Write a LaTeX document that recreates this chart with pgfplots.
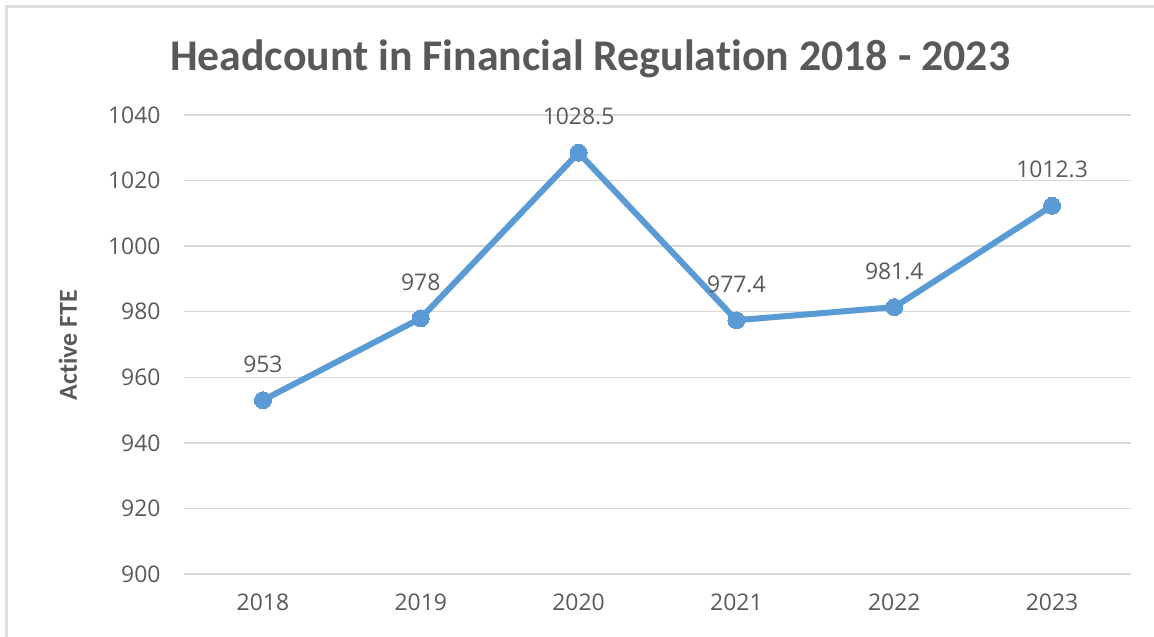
\documentclass[border=0pt]{standalone}
\usepackage{pgfplots}
\pgfplotsset{compat=1.18}
\usepackage{pgfplotstable}
\usepackage{fontspec}
\setmainfont{Open Sans}
\newfontfamily\carlito[Ligatures=CommonOff]{Carlito}
\definecolor{lineblue}{HTML}{5B9BD5}
\definecolor{txtgray}{HTML}{595959}
\definecolor{gridgray}{HTML}{D9D9D9}
\pgfplotstableread{
x y lab
0 953 953
1 978 978
2 1028.5 1028.5
3 977.4 977.4
4 981.4 981.4
5 1012.3 1012.3
}\datatable
\begin{document}
\begin{tikzpicture}
\useasboundingbox (-184bp,-63bp) rectangle (970bp,574bp);
\draw[gridgray!90, line width=3bp] (-177bp,-63bp) -- (-177bp,567bp) -- (970bp,567bp);
\begin{axis}[
  scale only axis,
  width=947bp, height=459bp,
  xmin=-0.5, xmax=5.5,
  ymin=900, ymax=1040,
  ytick={900,920,...,1040},
  xtick={0,1,2,3,4,5},
  xticklabels={2018,2019,2020,2021,2022,2023},
  axis line style={draw=none},
  major tick length=0pt,
  ymajorgrids,
  grid style={gridgray, line width=1.5bp},
  tick label style={font=\fontsize{23}{26}\selectfont, text=txtgray},
  /pgf/number format/assume math mode=true,
  /pgf/number format/1000 sep={},
  yticklabel style={xshift=-20bp},
  xticklabel style={yshift=-16bp},
  title={\carlito\bfseries Headcount in Financial Regulation 2018 - 2023},
  title style={at={(axis description cs:0.4287,1.11)}, anchor=center, font=\fontsize{44}{48}\selectfont, text=txtgray},
  ylabel={\carlito\bfseries Active FTE},
  ylabel style={at={(axis description cs:-0.1225,0.499)}, anchor=center, font=\fontsize{26}{30}\selectfont, text=txtgray},
  clip=false,
]
\addplot[lineblue, line width=6bp, mark=*, mark size=8.5bp, mark options={fill=lineblue, draw=lineblue, line width=0pt},
  nodes near coords, point meta=explicit symbolic,
  every node near coord/.append style={font=\fontsize{23}{26}\selectfont, text=txtgray, anchor=center, yshift=36bp}]
  table[x=x, y=y, meta=lab] {\datatable};
\end{axis}
\end{tikzpicture}
\end{document}
